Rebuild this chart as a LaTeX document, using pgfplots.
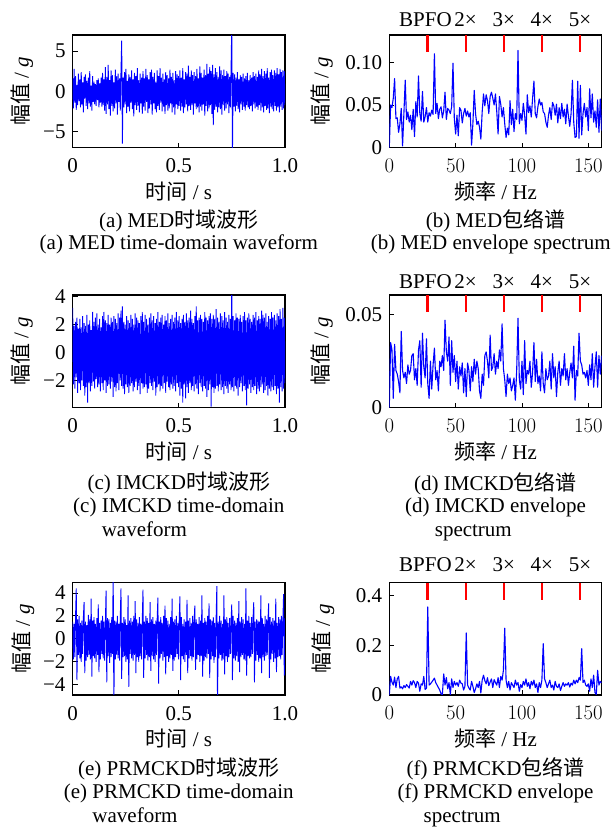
\documentclass[border=0pt]{standalone}
\usepackage{fontspec}
\setmainfont{Liberation Serif}
\newfontfamily\cjk{Noto Sans CJK SC}
\usepackage{pgfplots}
\usepackage{pgfplotstable}
\pgfplotsset{compat=1.18}
\newcommand{\myfont}{\fontsize{21}{24.5}\selectfont}

% ---------- time waveforms (300 samples over 1 s) ----------
\pgfplotstableread[header=false,row sep=\\]{
1.6\\ -2.1\\ 2.8\\ -1.4\\ 1.9\\ -2.3\\ 0.8\\ -1.7\\ 2.2\\ -1.2\\
1.5\\ -2.0\\ 2.4\\ -1.6\\ 1.1\\ -2.6\\ 1.8\\ -0.9\\ 2.1\\ -1.8\\
1.3\\ -2.2\\ 1.7\\ -1.5\\ 2.5\\ -1.9\\ 0.7\\ -2.4\\ 1.9\\ -1.3\\
1.2\\ -1.6\\ 0.9\\ -1.8\\ 1.4\\ -1.1\\ 1.6\\ -2.0\\ 1.0\\ -1.4\\
1.7\\ -1.9\\ 2.3\\ -1.7\\ 1.5\\ -2.4\\ 3.0\\ -2.8\\ 1.8\\ -1.6\\
3.3\\ -2.2\\ 1.4\\ -3.0\\ 2.6\\ -1.8\\ 2.0\\ -2.5\\ 1.1\\ -2.1\\
2.7\\ -1.5\\ 1.9\\ -2.9\\ 2.2\\ -1.3\\ 1.6\\ -2.4\\ 2.5\\ 6.3\\
-6.5\\ 1.7\\ -2.0\\ 2.4\\ -1.6\\ 2.8\\ -2.7\\ 1.3\\ -1.9\\ 2.1\\
-2.5\\ 1.8\\ -1.4\\ 2.6\\ -2.2\\ 1.5\\ -3.1\\ 2.3\\ -1.7\\ 1.9\\
-2.3\\ 2.9\\ -1.8\\ 1.4\\ -2.6\\ 2.2\\ -1.5\\ 1.7\\ -2.8\\ 2.5\\
-1.9\\ 1.6\\ -2.4\\ 2.8\\ -1.3\\ 2.0\\ -2.7\\ 1.5\\ -2.1\\ 2.4\\
-1.6\\ 2.7\\ -2.9\\ 1.8\\ -1.5\\ 2.3\\ -2.2\\ 1.2\\ -2.6\\ 2.6\\
-1.8\\ 1.9\\ -2.3\\ 2.9\\ -1.4\\ 1.7\\ -2.5\\ 2.2\\ -1.9\\ 1.5\\
-2.8\\ 2.4\\ -1.7\\ 2.0\\ -2.4\\ 1.6\\ -2.1\\ 2.7\\ -1.5\\ 1.8\\
-2.6\\ 2.3\\ -2.0\\ 1.4\\ -2.9\\ 2.5\\ -1.6\\ 2.1\\ -2.2\\ 1.9\\
-1.8\\ 2.6\\ -2.4\\ 1.7\\ -1.9\\ 2.9\\ -2.7\\ 1.5\\ -2.0\\ 2.4\\
-1.6\\ 2.2\\ -2.5\\ 3.2\\ -1.8\\ 1.8\\ -2.3\\ 2.6\\ -1.7\\ 2.0\\
-2.9\\ 2.4\\ -1.5\\ 1.9\\ -2.2\\ 2.8\\ -2.0\\ 1.6\\ -2.6\\ 3.1\\
-1.9\\ 2.3\\ -2.4\\ 1.7\\ -1.6\\ 2.7\\ -3.0\\ 2.0\\ -1.8\\ 3.4\\
-2.5\\ 2.2\\ -2.1\\ 3.0\\ -1.7\\ 2.5\\ -2.8\\ 3.3\\ -4.2\\ 2.1\\
-2.3\\ 2.9\\ -1.9\\ 2.4\\ -2.6\\ 1.8\\ -2.0\\ 3.1\\ -2.2\\ 2.6\\
-2.9\\ 2.0\\ -1.7\\ 2.7\\ -2.4\\ 1.9\\ -2.1\\ 2.5\\ -1.6\\ 2.2\\
-2.7\\ 1.8\\ -2.0\\ 2.6\\ 8.0\\ -8.0\\ 2.3\\ -1.9\\ 2.1\\ -2.5\\
1.7\\ -1.8\\ 2.4\\ -2.2\\ 1.5\\ -2.6\\ 2.0\\ -1.6\\ 1.8\\ -2.3\\
2.2\\ -1.9\\ 1.6\\ -2.4\\ 1.9\\ -1.7\\ 2.3\\ -2.0\\ 1.4\\ -2.2\\
2.0\\ -1.8\\ 1.7\\ -2.5\\ 2.4\\ -1.6\\ 1.9\\ -2.1\\ 2.2\\ -1.9\\
1.8\\ -2.3\\ 2.6\\ -1.7\\ 2.1\\ -2.4\\ 2.8\\ -2.0\\ 1.9\\ -2.6\\
2.5\\ -1.8\\ 2.2\\ -2.3\\ 2.9\\ -2.1\\ 1.7\\ -2.7\\ 2.4\\ -1.9\\
2.7\\ -2.2\\ 2.0\\ -2.5\\ 2.6\\ -1.8\\ 2.3\\ -2.4\\ 2.9\\ -2.0\\
2.1\\ -2.6\\ 2.8\\ -1.9\\ 2.4\\ -2.3\\ 2.6\\ -2.1\\ 2.5\\ -1.7\\
}\waveMED

\pgfplotstableread[header=false,row sep=\\]{
3.2\\ -2.3\\ 1.9\\ -2.6\\ 2.2\\ -1.8\\ 2.5\\ -2.9\\ 1.7\\ -2.2\\
2.4\\ -2.7\\ 1.8\\ -2.0\\ 2.6\\ -2.4\\ 2.1\\ -3.1\\ 1.9\\ -2.5\\
2.7\\ -3.6\\ 2.0\\ -2.2\\ 2.3\\ -2.8\\ 1.6\\ -2.4\\ 2.9\\ -2.1\\
2.2\\ -2.6\\ 2.5\\ -1.9\\ 2.8\\ -2.5\\ 2.0\\ -2.3\\ 2.4\\ -2.8\\
1.8\\ -2.2\\ 2.6\\ -2.7\\ 2.9\\ -2.0\\ 2.3\\ -2.9\\ 2.1\\ -2.4\\
2.7\\ -2.3\\ 2.0\\ -2.6\\ 2.5\\ -2.1\\ 2.2\\ -3.2\\ 2.6\\ -2.5\\
2.4\\ -2.8\\ 2.1\\ -2.2\\ 2.8\\ -2.7\\ 2.5\\ -2.0\\ 3.0\\ -2.4\\
3.3\\ -2.6\\ 2.2\\ -3.0\\ 2.0\\ -2.3\\ 2.6\\ -2.5\\ 2.3\\ -2.9\\
2.1\\ -2.4\\ 2.7\\ -2.2\\ 2.4\\ -2.8\\ 2.0\\ -2.5\\ 2.8\\ -2.1\\
2.5\\ -2.7\\ 2.3\\ -2.4\\ 2.1\\ -3.0\\ 2.6\\ -2.2\\ 2.9\\ -2.6\\
2.2\\ -2.5\\ 2.7\\ -2.3\\ 2.4\\ -2.9\\ 2.0\\ -2.6\\ 2.5\\ -2.2\\
2.8\\ -2.4\\ 2.3\\ -2.7\\ 2.6\\ -2.1\\ 2.1\\ -3.1\\ 2.4\\ -2.5\\
2.9\\ -2.3\\ 2.2\\ -2.8\\ 2.5\\ -2.4\\ 2.7\\ -2.6\\ 2.0\\ -2.2\\
2.6\\ -2.9\\ 2.3\\ -2.1\\ 2.8\\ -2.5\\ 2.1\\ -2.7\\ 2.4\\ -2.3\\
2.7\\ -2.6\\ 2.2\\ -2.4\\ 2.5\\ -2.8\\ 2.9\\ -2.2\\ 2.3\\ -2.5\\
2.6\\ -3.1\\ 2.1\\ -2.6\\ 2.4\\ -3.6\\ 2.7\\ -2.3\\ 2.2\\ -3.3\\
2.8\\ -2.5\\ 2.3\\ -2.9\\ 2.5\\ -2.2\\ 3.0\\ -2.7\\ 2.4\\ -2.4\\
2.1\\ -2.8\\ 2.6\\ -2.3\\ 3.3\\ -2.6\\ 2.3\\ -3.0\\ 2.5\\ -2.2\\
2.7\\ -2.5\\ 2.4\\ -2.8\\ 2.2\\ -2.4\\ 2.9\\ -2.6\\ 2.5\\ -3.2\\
2.3\\ -2.7\\ 2.6\\ -2.3\\ 2.8\\ -3.9\\ 2.4\\ -2.5\\ 2.7\\ -2.9\\
2.4\\ -2.6\\ 3.1\\ -2.4\\ 2.5\\ -2.8\\ 2.2\\ -2.3\\ 2.8\\ -2.7\\
2.6\\ -2.5\\ 2.3\\ -3.0\\ 2.9\\ -2.4\\ 2.5\\ -2.6\\ 2.2\\ -2.9\\
2.7\\ -2.3\\ 2.4\\ -2.7\\ 5.0\\ -2.5\\ 2.6\\ -2.8\\ 2.3\\ -2.4\\
2.8\\ -2.6\\ 2.5\\ -3.1\\ 2.4\\ -2.5\\ 2.7\\ -2.2\\ 2.2\\ -2.8\\
2.6\\ -2.4\\ 2.9\\ -2.7\\ 2.3\\ -3.8\\ 2.5\\ -2.6\\ 2.8\\ -2.3\\
2.4\\ -2.9\\ 2.2\\ -2.5\\ 2.7\\ -2.7\\ 2.5\\ -2.4\\ 2.9\\ -3.0\\
2.3\\ -2.6\\ 2.6\\ -2.8\\ 2.4\\ -2.5\\ 3.0\\ -2.3\\ 2.7\\ -2.9\\
2.5\\ -2.7\\ 2.8\\ -2.4\\ 2.2\\ -3.1\\ 2.6\\ -2.6\\ 2.4\\ -2.8\\
2.9\\ -2.5\\ 2.5\\ -2.7\\ 2.7\\ -2.4\\ 2.3\\ -3.0\\ 2.8\\ -2.6\\
2.6\\ -3.6\\ 3.1\\ -2.5\\ 2.4\\ -2.8\\ 3.2\\ -2.6\\ 2.5\\ -2.2\\
}\waveIMCKD

\pgfplotstableread[header=false,row sep=\\]{
1.5\\ -1.8\\ 1.3\\ -1.6\\ 1.9\\ 4.4\\ -3.6\\ 1.7\\ -1.4\\ 2.0\\
-1.7\\ 1.4\\ -2.0\\ 1.6\\ -1.3\\ 1.8\\ 3.2\\ -3.0\\ 1.5\\ -1.9\\
1.2\\ -1.6\\ 2.1\\ -1.4\\ 1.7\\ -1.8\\ 3.5\\ -3.3\\ 1.6\\ -1.5\\
1.9\\ -1.7\\ 1.3\\ -2.0\\ 1.8\\ -1.4\\ 3.0\\ -2.9\\ 1.4\\ -1.8\\
1.6\\ -1.3\\ 2.0\\ -1.7\\ 1.5\\ -1.9\\ 1.3\\ 4.2\\ -3.8\\ 1.8\\
-1.5\\ 1.7\\ -2.1\\ 1.4\\ -1.6\\ 1.9\\ -1.3\\ 6.0\\ -6.0\\ 1.6\\
-1.8\\ 1.5\\ -1.4\\ 2.0\\ -1.7\\ 1.3\\ -1.9\\ 1.8\\ 4.4\\ -3.5\\
1.4\\ -1.6\\ 1.9\\ -1.5\\ 1.7\\ -2.0\\ 1.2\\ -1.8\\ 3.8\\ -4.2\\
1.6\\ -1.3\\ 1.8\\ -1.7\\ 1.5\\ -1.9\\ 2.0\\ -1.4\\ 3.3\\ -3.0\\
1.7\\ -1.6\\ 1.4\\ -2.0\\ 1.9\\ -1.5\\ 1.3\\ -1.8\\ 1.6\\ 4.3\\
-3.4\\ 1.5\\ -1.7\\ 2.0\\ -1.4\\ 1.8\\ -1.9\\ 1.4\\ -1.6\\ 3.2\\
-2.8\\ 1.7\\ -1.5\\ 1.9\\ -1.8\\ 1.3\\ -2.0\\ 1.6\\ -1.4\\ 1.8\\
3.6\\ -3.9\\ 1.5\\ -1.7\\ 1.9\\ -1.3\\ 1.4\\ -1.9\\ 2.0\\ -1.6\\
2.9\\ -3.1\\ 1.8\\ -1.5\\ 1.6\\ -2.0\\ 1.3\\ -1.7\\ 1.9\\ -1.4\\
3.5\\ -2.8\\ 1.5\\ -1.9\\ 1.7\\ -1.6\\ 2.0\\ -1.3\\ 1.4\\ -1.8\\
1.6\\ 3.7\\ -3.6\\ 1.9\\ -1.5\\ 1.3\\ -1.8\\ 1.7\\ -2.0\\ 1.5\\
-1.4\\ 3.4\\ -3.0\\ 1.6\\ -1.7\\ 1.8\\ -1.5\\ 1.4\\ -1.9\\ 2.0\\
-1.6\\ 1.5\\ 2.9\\ -2.7\\ 1.7\\ -1.8\\ 1.3\\ -1.4\\ 1.9\\ -2.0\\
1.6\\ -1.5\\ 3.8\\ -3.3\\ 1.4\\ -1.9\\ 1.8\\ -1.6\\ 1.5\\ -1.7\\
2.0\\ -1.3\\ 3.1\\ -3.4\\ 1.7\\ -1.8\\ 1.6\\ -1.5\\ 1.9\\ -2.1\\
1.4\\ -1.6\\ 1.8\\ 4.6\\ -6.0\\ 1.5\\ -1.7\\ 2.0\\ -1.4\\ 1.6\\
-1.9\\ 1.3\\ -1.8\\ 3.8\\ -3.1\\ 1.7\\ -1.5\\ 1.9\\ -2.0\\ 1.4\\
-1.6\\ 1.8\\ -1.3\\ 1.5\\ 3.0\\ -3.6\\ 2.0\\ -1.7\\ 1.6\\ -1.9\\
1.4\\ -1.5\\ 1.8\\ -2.0\\ 3.3\\ -2.9\\ 1.5\\ -1.6\\ 1.9\\ -1.4\\
1.7\\ -1.8\\ 1.3\\ -1.9\\ 4.4\\ -3.2\\ 1.6\\ -1.5\\ 2.0\\ -1.7\\
1.4\\ -1.6\\ 1.9\\ -1.3\\ 1.8\\ 3.2\\ -3.8\\ 1.5\\ -1.9\\ 1.7\\
-1.4\\ 1.6\\ -2.0\\ 1.5\\ -1.7\\ 3.8\\ -3.0\\ 1.8\\ -1.6\\ 1.3\\
-1.9\\ 2.0\\ -1.5\\ 1.7\\ -1.4\\ 1.6\\ 3.1\\ -3.4\\ 1.9\\ -1.8\\
1.5\\ -1.3\\ 1.8\\ -2.0\\ 1.6\\ -1.7\\ 3.5\\ -2.9\\ 1.4\\ -1.6\\
1.9\\ -1.5\\ 1.7\\ -1.8\\ 2.0\\ -1.4\\ 1.6\\ 3.9\\ -3.2\\ 1.8\\
}\wavePRMCKD

% ---------- envelope spectra (0..160 Hz, 1 Hz step) ----------
\pgfplotstableread[header=false,row sep=\\]{
0.000\\ 0.050\\ 0.047\\ 0.058\\ 0.081\\ 0.034\\ 0.035\\ 0.018\\ 0.028\\ 0.046\\
0.002\\ 0.040\\ 0.079\\ 0.033\\ 0.042\\ 0.030\\ 0.038\\ 0.021\\ 0.045\\ 0.013\\
0.054\\ 0.036\\ 0.084\\ 0.040\\ 0.031\\ 0.066\\ 0.030\\ 0.036\\ 0.047\\ 0.030\\
0.041\\ 0.037\\ 0.044\\ 0.039\\ 0.110\\ 0.040\\ 0.052\\ 0.034\\ 0.045\\ 0.048\\
0.035\\ 0.043\\ 0.065\\ 0.033\\ 0.046\\ 0.044\\ 0.040\\ 0.048\\ 0.099\\ 0.034\\
0.016\\ 0.038\\ 0.014\\ 0.047\\ 0.044\\ 0.029\\ 0.040\\ 0.046\\ 0.037\\ 0.043\\
0.036\\ 0.041\\ 0.003\\ 0.028\\ 0.067\\ 0.040\\ 0.027\\ 0.031\\ 0.024\\ 0.010\\
0.042\\ 0.063\\ 0.049\\ 0.062\\ 0.055\\ 0.040\\ 0.060\\ 0.065\\ 0.058\\ 0.050\\
0.063\\ 0.042\\ 0.016\\ 0.060\\ 0.051\\ 0.036\\ 0.047\\ 0.028\\ 0.012\\ 0.023\\
0.015\\ 0.055\\ 0.027\\ 0.045\\ 0.019\\ 0.040\\ 0.033\\ 0.114\\ 0.028\\ 0.040\\
0.032\\ 0.052\\ 0.038\\ 0.016\\ 0.062\\ 0.041\\ 0.049\\ 0.036\\ 0.058\\ 0.078\\
0.040\\ 0.035\\ 0.048\\ 0.057\\ 0.050\\ 0.053\\ 0.042\\ 0.040\\ 0.030\\ 0.024\\
0.038\\ 0.047\\ 0.033\\ 0.053\\ 0.049\\ 0.038\\ 0.051\\ 0.029\\ 0.047\\ 0.034\\
0.052\\ 0.036\\ 0.045\\ 0.028\\ 0.051\\ 0.037\\ 0.025\\ 0.040\\ 0.079\\ 0.030\\
0.012\\ 0.013\\ 0.078\\ 0.011\\ 0.073\\ 0.015\\ 0.040\\ 0.052\\ 0.036\\ 0.047\\
0.020\\ 0.069\\ 0.035\\ 0.063\\ 0.030\\ 0.043\\ 0.024\\ 0.056\\ 0.018\\ 0.057\\
0.020\\
}\specMED

\pgfplotstableread[header=false,row sep=\\]{
0.000\\ 0.035\\ 0.031\\ 0.005\\ 0.034\\ 0.020\\ 0.018\\ 0.014\\ 0.008\\ 0.041\\
0.020\\ 0.016\\ 0.019\\ 0.013\\ 0.023\\ 0.018\\ 0.020\\ 0.028\\ 0.029\\ 0.015\\
0.021\\ 0.012\\ 0.031\\ 0.036\\ 0.011\\ 0.040\\ 0.022\\ 0.016\\ 0.037\\ 0.013\\
0.005\\ 0.025\\ 0.010\\ 0.023\\ 0.032\\ 0.015\\ 0.020\\ 0.009\\ 0.025\\ 0.022\\
0.028\\ 0.020\\ 0.047\\ 0.030\\ 0.025\\ 0.038\\ 0.012\\ 0.036\\ 0.019\\ 0.028\\
0.014\\ 0.025\\ 0.010\\ 0.022\\ 0.017\\ 0.024\\ 0.008\\ 0.021\\ 0.006\\ 0.024\\
0.020\\ 0.009\\ 0.022\\ 0.014\\ 0.026\\ 0.018\\ 0.025\\ 0.021\\ 0.009\\ 0.005\\
0.018\\ 0.012\\ 0.028\\ 0.030\\ 0.025\\ 0.016\\ 0.039\\ 0.020\\ 0.022\\ 0.029\\
0.018\\ 0.025\\ 0.021\\ 0.031\\ 0.025\\ 0.045\\ 0.021\\ 0.015\\ 0.006\\ 0.018\\
0.013\\ 0.016\\ 0.009\\ 0.012\\ 0.016\\ 0.004\\ 0.020\\ 0.048\\ 0.015\\ 0.010\\
0.025\\ 0.007\\ 0.036\\ 0.013\\ 0.020\\ 0.018\\ 0.025\\ 0.011\\ 0.019\\ 0.035\\
0.014\\ 0.026\\ 0.013\\ 0.017\\ 0.009\\ 0.030\\ 0.013\\ 0.008\\ 0.021\\ 0.015\\
0.017\\ 0.025\\ 0.010\\ 0.029\\ 0.016\\ 0.022\\ 0.006\\ 0.019\\ 0.025\\ 0.012\\
0.021\\ 0.017\\ 0.029\\ 0.015\\ 0.021\\ 0.012\\ 0.019\\ 0.024\\ 0.016\\ 0.033\\
0.004\\ 0.020\\ 0.017\\ 0.040\\ 0.025\\ 0.023\\ 0.018\\ 0.019\\ 0.016\\ 0.020\\
0.012\\ 0.023\\ 0.015\\ 0.029\\ 0.011\\ 0.022\\ 0.030\\ 0.011\\ 0.028\\ 0.018\\
0.028\\
}\specIMCKD

\pgfplotstableread[header=false,row sep=\\]{
0.000\\ 0.075\\ 0.052\\ 0.040\\ 0.072\\ 0.030\\ 0.065\\ 0.075\\ 0.028\\ 0.033\\
0.025\\ 0.038\\ 0.030\\ 0.042\\ 0.035\\ 0.028\\ 0.055\\ 0.040\\ 0.058\\ 0.050\\
0.030\\ 0.055\\ 0.048\\ 0.015\\ 0.045\\ 0.040\\ 0.075\\ 0.022\\ 0.028\\ 0.355\\
0.040\\ 0.045\\ 0.052\\ 0.060\\ 0.068\\ 0.050\\ 0.040\\ 0.030\\ 0.020\\ 0.005\\
0.002\\ 0.085\\ 0.040\\ 0.070\\ 0.025\\ 0.050\\ 0.002\\ 0.065\\ 0.030\\ 0.055\\
0.040\\ 0.050\\ 0.035\\ 0.060\\ 0.048\\ 0.045\\ 0.020\\ 0.035\\ 0.250\\ 0.040\\
0.028\\ 0.020\\ 0.055\\ 0.035\\ 0.010\\ 0.025\\ 0.045\\ 0.030\\ 0.055\\ 0.008\\
0.060\\ 0.080\\ 0.058\\ 0.045\\ 0.070\\ 0.038\\ 0.052\\ 0.065\\ 0.030\\ 0.062\\
0.050\\ 0.040\\ 0.070\\ 0.030\\ 0.075\\ 0.060\\ 0.100\\ 0.270\\ 0.060\\ 0.030\\
0.055\\ 0.020\\ 0.050\\ 0.040\\ 0.030\\ 0.060\\ 0.040\\ 0.050\\ 0.015\\ 0.042\\
0.030\\ 0.055\\ 0.040\\ 0.065\\ 0.035\\ 0.050\\ 0.025\\ 0.055\\ 0.040\\ 0.060\\
0.030\\ 0.045\\ 0.010\\ 0.050\\ 0.030\\ 0.060\\ 0.207\\ 0.065\\ 0.050\\ 0.030\\
0.045\\ 0.060\\ 0.030\\ 0.040\\ 0.020\\ 0.055\\ 0.035\\ 0.030\\ 0.045\\ 0.018\\
0.035\\ 0.050\\ 0.035\\ 0.045\\ 0.040\\ 0.050\\ 0.032\\ 0.048\\ 0.040\\ 0.060\\
0.045\\ 0.060\\ 0.050\\ 0.070\\ 0.060\\ 0.187\\ 0.050\\ 0.060\\ 0.040\\ 0.035\\
0.045\\ 0.015\\ 0.065\\ 0.030\\ 0.080\\ 0.010\\ 0.002\\ 0.100\\ 0.040\\ 0.055\\
0.050\\
}\specPRMCKD

\pgfplotsset{
  base/.style={scale only axis, width=212.3pt, anchor=north west,
    tick align=inside, tick pos=left, major tick length=5pt,
    scaled ticks=false,
    axis line style={line width=1.1pt, black},
    tick style={black, line width=0.9pt},
    tick label style={font=\myfont},
    x tick label style={yshift=-4pt},
    label style={font=\myfont},
    xlabel style={at={(axis description cs:0.5,-0.39)}, anchor=center}},
  wave/.style={base, xmin=0, xmax=1, xtick={0,0.5,1}, xticklabels={0,0.5,1.0},
    xlabel={{\cjk 时间} / s}, ylabel={{\cjk 幅值} / \textit{g}}},
  spec/.style={base, xmin=0, xmax=160, xtick={0,50,100,150}, ymin=0,
    xlabel={{\cjk 频率} / Hz}, ylabel={{\cjk 幅值} / \textit{g}},
    extra x ticks={28.75,57.5,86.25,115,143.75},
    extra x tick labels={\hspace*{-4pt}BPFO,2×,3×,4×,5×},
    extra x tick style={xtick pos=right, xticklabel pos=right,
      major tick length=17pt, tick style={red, line width=2.1pt},
      x tick label style={yshift=#1}}},
  spec/.default=5.5pt,
}

\begin{document}
\myfont
\begin{tikzpicture}[every node/.append style={font=\myfont}]
\useasboundingbox (0pt,0pt) rectangle (614pt,-831pt);

% ---- (a)
\begin{axis}[wave, at={(72.7pt,-35pt)}, height=112.7pt, ymin=-7, ymax=7,
  ytick={-5,0,5}, yticklabels={−5,0,5},
  ylabel style={at={(axis description cs:-0.239,0.5)}, anchor=center}]
\addplot[draw=blue, line width=0.9pt] table[x expr=\coordindex/299, y index=0] {\waveMED};
\end{axis}

% ---- (b)
\begin{axis}[spec=5.5pt, at={(389.3pt,-35pt)}, height=112.7pt, ymax=0.132,
  ytick={0,0.05,0.1}, yticklabels={0,0.05,0.10},
  ylabel style={at={(axis description cs:-0.318,0.5)}, anchor=center}]
\addplot[draw=blue, line width=1.1pt, line join=round] table[x expr=\coordindex, y index=0] {\specMED};
\end{axis}

% ---- (c)
\begin{axis}[wave, at={(72.7pt,-295pt)}, height=112.7pt, ymin=-3.97, ymax=4.12,
  ytick={-2,0,2,4}, yticklabels={−2,0,2,4},
  ylabel style={at={(axis description cs:-0.24,0.5)}, anchor=center}]
\addplot[draw=blue, line width=0.9pt] table[x expr=\coordindex/299, y index=0] {\waveIMCKD};
\end{axis}

% ---- (d)
\begin{axis}[spec=3.3pt, at={(389.3pt,-295pt)}, height=112.7pt, ymax=0.0605,
  ytick={0,0.05}, yticklabels={0,0.05},
  ylabel style={at={(axis description cs:-0.318,0.5)}, anchor=center}]
\addplot[draw=blue, line width=1.1pt, line join=round] table[x expr=\coordindex, y index=0] {\specIMCKD};
\end{axis}

% ---- (e)
\begin{axis}[wave, at={(72.7pt,-582.7pt)}, height=112.3pt, ymin=-4.9, ymax=4.9,
  ytick={-4,-2,0,2,4}, yticklabels={−4,−2,0,2,4},
  ylabel style={at={(axis description cs:-0.233,0.5)}, anchor=center}]
\addplot[draw=blue, line width=0.9pt] table[x expr=\coordindex/299, y index=0] {\wavePRMCKD};
\end{axis}

% ---- (f)
\begin{axis}[spec=7.7pt, at={(389.3pt,-582.7pt)}, height=112.3pt, ymax=0.453,
  ytick={0,0.2,0.4}, yticklabels={0,0.2,0.4},
  ylabel style={at={(axis description cs:-0.311,0.5)}, anchor=center}]
\addplot[draw=blue, line width=1.1pt, line join=round] table[x expr=\coordindex, y index=0] {\specPRMCKD};
\end{axis}

% ---- captions
\begin{scope}[every node/.append style={inner sep=0pt}]
\node[anchor=center] at (178.8pt,-220.7pt) {(a) MED{\cjk 时域波形}};
\node[anchor=center] at (178.8pt,-244pt) {(a) MED time-domain waveform};
\node[anchor=center] at (495.5pt,-220.7pt) {(b) MED{\cjk 包络谱}};
\node[anchor=center] at (490.8pt,-244pt) {(b) MED envelope spectrum};

\node[anchor=center] at (178.8pt,-483.3pt) {(c) IMCKD{\cjk 时域波形}};
\node[anchor=base] (c1) at (178.8pt,-512.5pt) {(c) IMCKD time-domain};
\node[anchor=base west] at ([yshift=-24.4pt]c1.base west) {\phantom{(c) }waveform};
\node[anchor=center] at (495.5pt,-484pt) {(d) IMCKD{\cjk 包络谱}};
\node[anchor=base] (d1) at (495.5pt,-512.5pt) {(d) IMCKD envelope};
\node[anchor=base west] at ([yshift=-24.4pt]d1.base west) {\phantom{(d) }spectrum};

\node[anchor=center] at (178.8pt,-769pt) {(e) PRMCKD{\cjk 时域波形}};
\node[anchor=base] (e1) at (178.8pt,-798.5pt) {(e) PRMCKD time-domain};
\node[anchor=base west] at ([yshift=-24.4pt]e1.base west) {\phantom{(e) }waveform};
\node[anchor=center] at (495.5pt,-768.7pt) {(f) PRMCKD{\cjk 包络谱}};
\node[anchor=base] (f1) at (495.5pt,-798.5pt) {(f) PRMCKD envelope};
\node[anchor=base west] at ([yshift=-24.4pt]f1.base west) {\phantom{(f) }spectrum};
\end{scope}
\end{tikzpicture}
\end{document}
